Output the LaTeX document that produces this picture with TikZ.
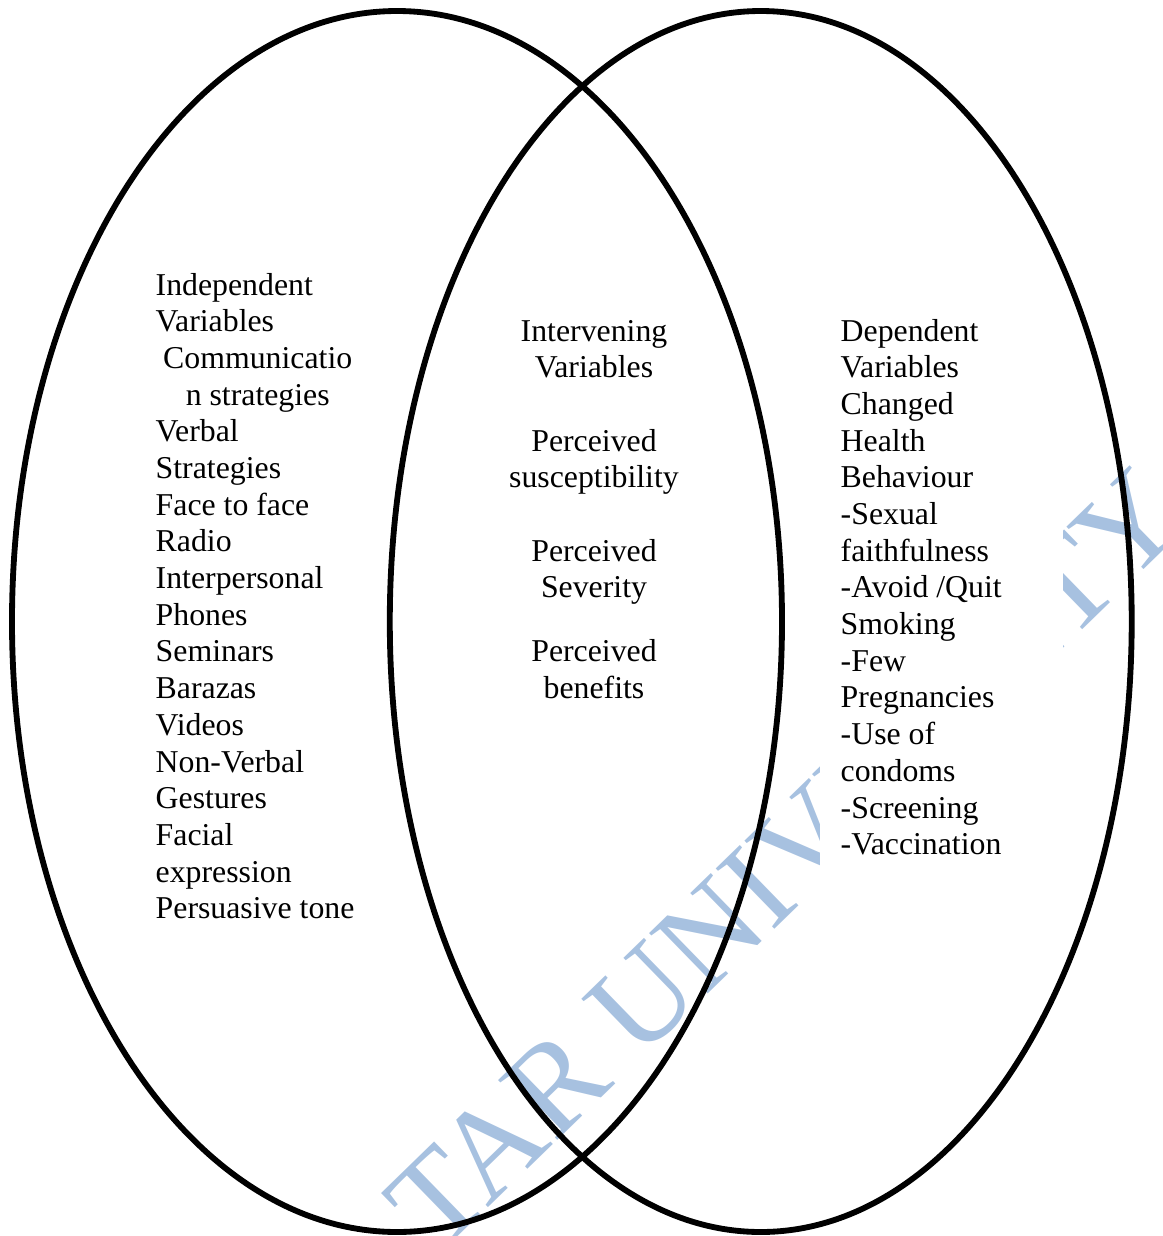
\documentclass[tikz,border=0pt]{standalone}
\usepackage{fontspec}
\setmainfont{Liberation Serif}
\usepackage{xcolor}
\usepackage{tikz}

\definecolor{wmblue}{RGB}{167,193,224}

\begin{document}
\begin{tikzpicture}[
		x=0.3774pt, y=-0.3774pt,
		% Defining text block styles
		varbox/.style={
				rectangle,
				fill=white,
				inner xsep=8pt,
				inner ysep=6pt,
				anchor=base west,
				align=flush left,
				font=\fontsize{12}{13.85}\selectfont
			},
		midbox/.style={
				varbox,
				anchor=base,
				align=flush center,
				text width=70pt
			},
		% Defining outline styles
		ring/.style={
				draw=black,
				line width=2.2pt
			},
		watermark/.style={
				text=wmblue,
				inner sep=0pt,
				rotate=44.2,
				font=\fontsize{48.5}{50}\selectfont
			}
		]

		\useasboundingbox (0,0) rectangle (1163,1236);

		% Background stamp
		\node[watermark] (stamp) at (786,860) {TAR UNIVERSITY};

		% Independent variables
		\node[varbox, text width=77pt] (indep) at (134,295) {
				Independent \\
				Variables \\
				\hspace*{\fill}Communicatio\hspace*{\fill} \\
				\hspace*{\fill}n strategies\hspace*{\fill} \\
				Verbal \\
				Strategies \\
				Face to face \\
				Radio \\
				Interpersonal \\
				Phones \\
				Seminars \\
				Barazas \\
				Videos \\
				Non-Verbal \\
				Gestures \\
				Facial \\
				expression \\
				Persuasive tone
			};

		% Intervening variables
		\node[midbox] (interv) at (594,341) {
				Intervening \\
				Variables \\[13.85pt]
				Perceived \\
				susceptibility \\[13.85pt]
				Perceived \\
				Severity \\[10.3pt]
				Perceived \\
				benefits
			};

		% Dependent variables
		\node[varbox, text width=76pt, inner ysep=14pt] (dep) at (819,341) {
				Dependent \\
				Variables \\
				Changed \\
				Health \\
				Behaviour \\
				-Sexual \\
				faithfulness \\
				-Avoid /Quit \\
				Smoking \\
				-Few \\
				Pregnancies \\
				-Use of \\
				condoms \\
				-Screening \\
				-Vaccination
			};

		% Drawing the two overlapping sets
		\draw[ring] (397,621.5) ellipse [x radius=145.3pt, y radius=230.4pt];
		\draw[ring] (760.75,621.5) ellipse [x radius=140pt, y radius=230.4pt];

	\end{tikzpicture}
\end{document}
